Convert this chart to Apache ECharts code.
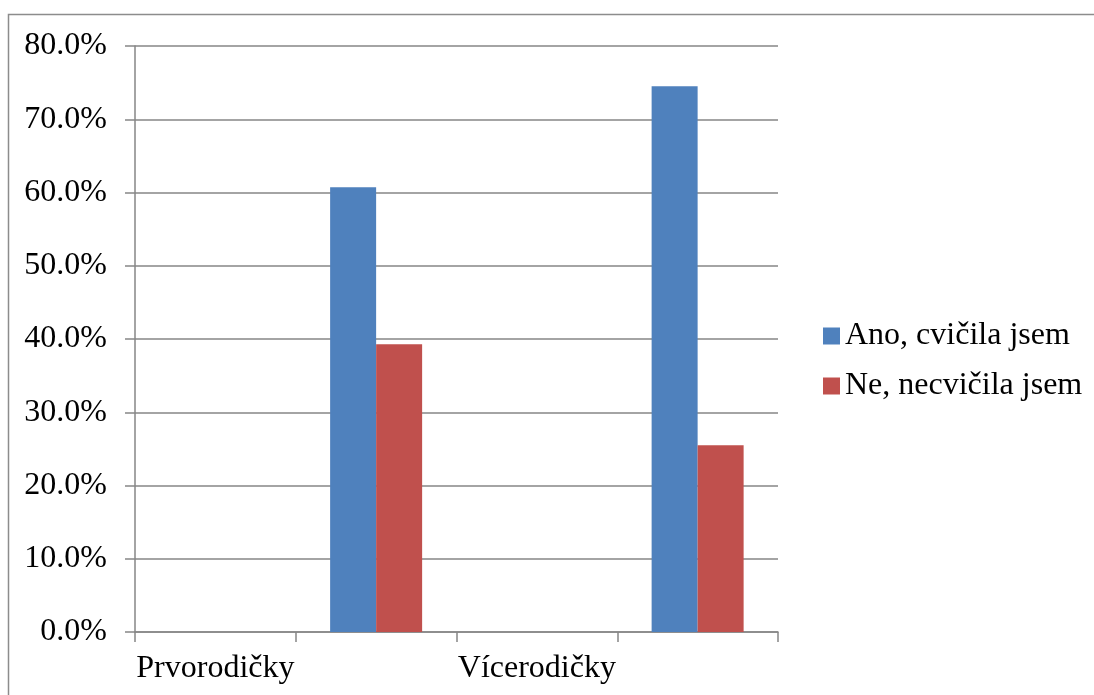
<!DOCTYPE html>
<html>
<head>
<meta charset="utf-8">
<script src="https://cdn.jsdelivr.net/npm/echarts@6/dist/echarts.min.js"></script>
<style>html,body{margin:0;padding:0;background:#fff}#c{width:1094px;height:695px}</style>
</head>
<body>
<div id="c"></div>
<script>
const categories = ['Prvorodičky', '', 'Vícerodičky', ''];
const seriesNames = ['Ano, cvičila jsem', 'Ne, necvičila jsem'];
const anoValues = [null, 60.7, null, 74.5];
const neValues = [null, 39.3, null, 25.5];
const yMin = 0, yMax = 80, yStep = 10;

const chart = echarts.init(document.getElementById('c'), null, {renderer: 'canvas'});
const font = '"Liberation Serif", "Times New Roman", serif';
const gray = '#868686';
chart.setOption({
  animation: false,
  backgroundColor: '#ffffff',
  textStyle: {fontFamily: font},
  graphic: [{
    type: 'rect', silent: true,
    shape: {x: 8.5, y: 14.5, width: 1300, height: 900},
    style: {fill: 'none', stroke: '#8c8c8c', lineWidth: 1.5}
  }],
  grid: {left: 135, right: 316, top: 46, bottom: 63, containLabel: false},
  legend: {
    orient: 'vertical', left: 818, top: 315,
    itemWidth: 17, itemHeight: 17, itemGap: 18,
    icon: 'rect',
    textStyle: {fontFamily: font, fontSize: 32, color: '#000'},
    data: seriesNames
  },
  xAxis: {
    type: 'category', data: categories, boundaryGap: true,
    axisLine: {lineStyle: {color: gray, width: 1.5}},
    axisTick: {show: true, length: 10, inside: false, lineStyle: {color: gray, width: 1.5}},
    axisLabel: {fontFamily: font, fontSize: 32, color: '#000', margin: 21, interval: 0},
    splitLine: {show: false}
  },
  yAxis: {
    type: 'value', min: yMin, max: yMax, interval: yStep,
    axisLine: {show: true, lineStyle: {color: gray, width: 1.5}},
    axisTick: {show: true, length: 10, lineStyle: {color: gray, width: 1.5}},
    axisLabel: {fontFamily: font, fontSize: 32, color: '#000', margin: 28,
      formatter: v => v.toFixed(1) + '%'},
    splitLine: {show: true, lineStyle: {color: gray, width: 1.5}}
  },
  series: [
    {name: seriesNames[0], type: 'bar', data: anoValues, barWidth: 46, barGap: '0%',
     itemStyle: {color: '#4F81BD'}},
    {name: seriesNames[1], type: 'bar', data: neValues, barWidth: 46, barGap: '0%',
     itemStyle: {color: '#C0504D'}}
  ]
});
</script>
</body>
</html>
